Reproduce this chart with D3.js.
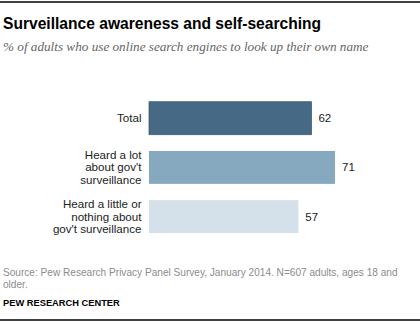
<!DOCTYPE html>
<html><head><meta charset="utf-8">
<script src="https://cdn.jsdelivr.net/npm/d3@7"></script>
<style>body{margin:0;background:#fff}svg{display:block}</style>
</head><body>
<script>
const categories = ["Total", "Heard a lot about gov't surveillance", "Heard a little or nothing about gov't surveillance"];
const labelLines = [["Total"], ["Heard a lot", "about gov't", "surveillance"], ["Heard a little or", "nothing about", "gov't surveillance"]];
const values = [62, 71, 57];
const colors = ["#466a86", "#87a9c0", "#d5e1ea"];

const W = 420, H = 324;
const svg = d3.select("body").append("svg").attr("width", W).attr("height", H);

svg.append("line").attr("x1", 0).attr("x2", W).attr("y1", 2).attr("y2", 2).attr("stroke", "#000").attr("stroke-width", 1.5);
svg.append("line").attr("x1", 0).attr("x2", W).attr("y1", 320).attr("y2", 320).attr("stroke", "#000").attr("stroke-width", 1.5);

svg.append("text").attr("x", 3).attr("y", 29).attr("font-family", "Liberation Sans, Arial, sans-serif")
  .attr("font-weight", "bold").attr("font-size", 15.6).attr("fill", "#000").text("Surveillance awareness and self-searching");
svg.append("text").attr("x", 3).attr("y", 51).attr("font-family", "Liberation Serif, serif")
  .attr("font-style", "italic").attr("font-size", 13.2).attr("fill", "#666").text("% of adults who use online search engines to look up their own name");

const x = d3.scaleLinear().domain([0, 100]).range([149, 411]);
const y = d3.scaleBand().domain(categories).range([85.5, 249.3]).paddingInner(0.33).paddingOuter(0.33);

const g = svg.append("g");
g.selectAll("rect").data(categories).join("rect")
  .attr("x", x(0)).attr("y", d => y(d)).attr("height", y.bandwidth())
  .attr("width", (d, i) => x(values[i]) - x(0)).attr("fill", (d, i) => colors[i])
  .attr("stroke", (d, i) => i === 0 ? "#3d5e77" : "none").attr("stroke-width", 0.8);

g.selectAll("text.val").data(categories).join("text").attr("class", "val")
  .attr("x", (d, i) => x(values[i]) + 7).attr("y", d => y(d) + y.bandwidth() / 2 + 4)
  .attr("font-family", "Liberation Sans, Arial, sans-serif").attr("font-size", 11.5).attr("fill", "#222")
  .text((d, i) => values[i]);

categories.forEach((c, i) => {
  const lines = labelLines[i];
  const lh = 12.5;
  const cy = y(c) + y.bandwidth() / 2 + 4 - (lines.length - 1) * lh / 2;
  const t = svg.append("text").attr("text-anchor", "end").attr("font-family", "Liberation Sans, Arial, sans-serif")
    .attr("font-size", 11.6).attr("fill", "#222");
  lines.forEach((l, k) => t.append("tspan").attr("x", 141.5).attr("y", cy + k * lh).text(l));
});

svg.append("text").attr("x", 3).attr("y", 276).attr("font-family", "Liberation Sans, Arial, sans-serif")
  .attr("font-size", 10.1).attr("fill", "#8c8c8c").text("Source: Pew Research Privacy Panel Survey, January 2014. N=607 adults, ages 18 and");
svg.append("text").attr("x", 3).attr("y", 288).attr("font-family", "Liberation Sans, Arial, sans-serif")
  .attr("font-size", 10.1).attr("fill", "#8c8c8c").text("older.");
svg.append("text").attr("x", 3).attr("y", 306).attr("font-family", "Liberation Sans, Arial, sans-serif")
  .attr("font-size", 9.3).attr("font-weight", "bold").attr("fill", "#000").text("PEW RESEARCH CENTER");
</script>
</body></html>
